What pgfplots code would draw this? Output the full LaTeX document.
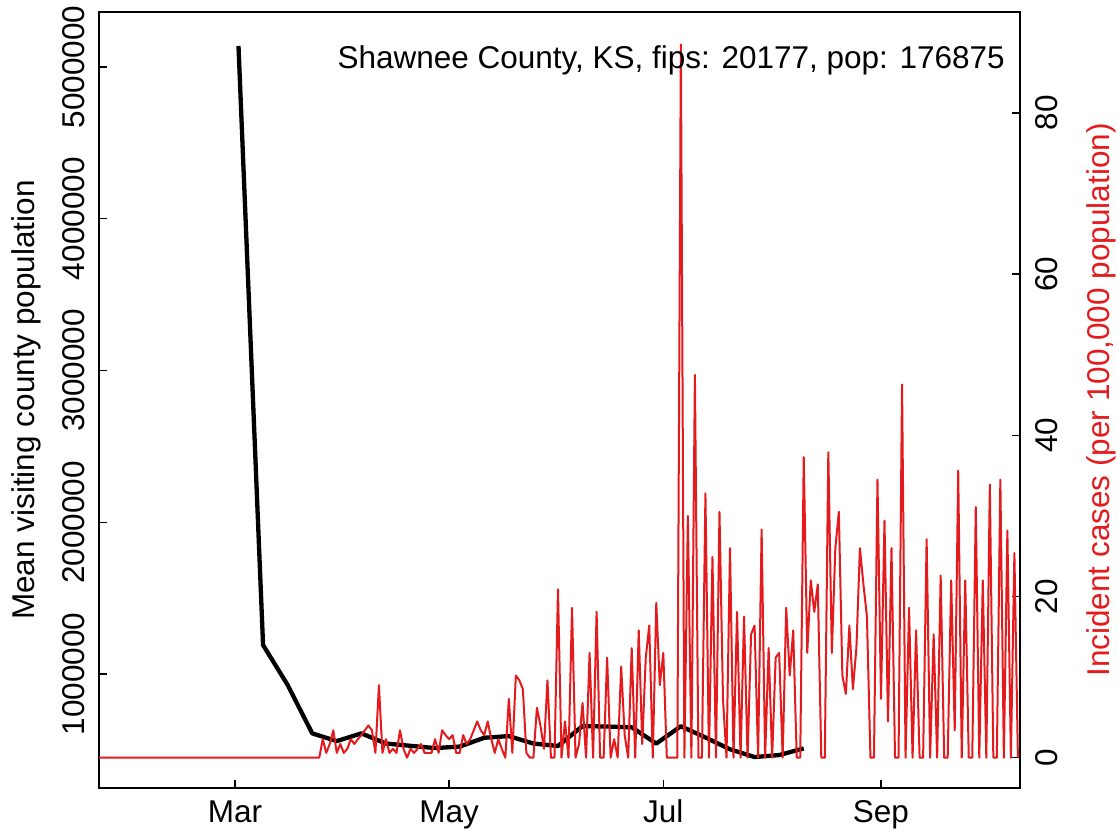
\documentclass[border=0pt]{standalone}
\usepackage{pgfplots}
\pgfplotsset{compat=1.18}
\usepackage{fontspec}
\setmainfont{Liberation Sans}
\definecolor{rred}{RGB}{228,26,28}
\newcommand{\bigf}{\fontsize{31.5}{37}\selectfont}
\begin{document}
\bigf
\begin{tikzpicture}
\path[use as bounding box] (-99pt,-43pt) rectangle (1019pt,788pt);
\begin{axis}[
  scale only axis, width=921pt, height=776pt,
  xmin=22.27, xmax=284.6, ymin=0.249, ymax=5.362,
  axis line style={line width=1.5pt},
  xtick={61,122,183,245}, xticklabels={Mar,May,Jul,Sep},
  ytick={1,2,3,4,5}, yticklabels={1000000,2000000,3000000,4000000,5000000},
  xtick pos=bottom, ytick pos=left,
  tick align=inside, major tick length=8pt,
  every tick/.style={black, line width=1.5pt},
  xticklabel style={font=\bigf, anchor=base, inner sep=0pt, yshift=-34pt},
  yticklabel style={font=\bigf, inner sep=0pt, xshift=-14pt, rotate=90, anchor=base},
  every axis y label/.style={at={(axis description cs:0,0.5)}, xshift=-64.4pt, rotate=90, anchor=base, inner sep=0pt, font=\bigf},
  ylabel={Mean visiting county population},
]
\addplot[black, line width=4.3pt, line join=round] coordinates {
(62,5.138) (69,1.191) (76,0.928) (83,0.609) (90,0.558) (97,0.609) (104,0.542)
(111,0.527) (118,0.512) (125,0.522) (132,0.580) (139,0.591) (146,0.542) (153,0.526)
(160,0.657) (167,0.654) (174,0.649) (181,0.542) (188,0.656) (195,0.582) (202,0.504)
(209,0.453) (216,0.466) (223,0.510)
};
\end{axis}
\begin{axis}[
  scale only axis, width=921pt, height=776pt,
  xmin=22.27, xmax=284.6, ymin=-3.76, ymax=92.52,
  axis line style={line width=1.5pt},
  xtick=\empty,
  ytick={0,20,40,60,80}, yticklabels={0,20,40,60,80},
  ytick pos=right,
  tick align=inside, major tick length=8pt,
  every tick/.style={black, line width=1.5pt},
  yticklabel style={font=\bigf, inner sep=0pt, xshift=37pt, rotate=90, anchor=base},
  every axis y label/.style={at={(axis description cs:1,0.5)}, xshift=89pt, rotate=90, anchor=base, inner sep=0pt, font=\bigf, text=rred},
  ylabel={Incident cases (per 100,000 population)},
]
\addplot[rred, line width=2pt, line join=round] coordinates {
(22,0) (85,0) (86,2.3) (87,0.6) (88,1.7) (89,3.4) (90,0.6) (91,1.7) (92,0.6) (93,1.1)
(94,2.3) (95,1.7) (96,2.3) (97,2.8) (98,3.4) (99,4.0) (100,3.4) (101,0.6) (102,9.0)
(103,0.6) (104,2.3) (105,0.6) (106,1.1) (107,0.6) (108,3.4) (109,1.1) (110,0) (111,1.1)
(112,0.6) (113,1.1) (114,1.7) (115,0.6) (116,0.6) (117,0.6) (118,2.3) (119,0.6) (120,3.4)
(121,2.8) (122,2.3) (123,2.8) (124,0.6) (125,0.6) (126,2.8) (127,1.7) (128,2.3) (129,3.4)
(130,4.5) (131,3.4) (132,2.8) (133,4.5) (134,2.3) (135,0.6) (136,2.3) (137,1.1) (138,0)
(139,7.3) (140,0.6) (141,10.2) (142,9.6) (143,8.5) (144,0.6) (145,0) (146,0) (147,6.2)
(148,4.0) (149,1.1) (150,9.6) (151,0) (152,0) (153,20.9) (154,0) (155,4.5) (156,0)
(157,18.6) (158,0) (159,1.7) (160,6.8) (161,0) (162,13.0) (163,0) (164,18.1) (165,0)
(166,0) (167,12.4) (168,0) (169,2.3) (170,0) (171,11.3) (172,2.8) (173,0) (174,13.6)
(175,0) (176,15.8) (177,1.7) (178,12.4) (179,16.4) (180,0) (181,19.2) (182,9.0) (183,13.0)
(184,0) (185,0) (186,0) (187,0) (188,88.5) (189,0) (190,30.0) (191,0) (192,47.5) (193,0)
(194,0) (195,32.8) (196,0) (197,24.9) (198,0) (199,30.5) (200,7.3) (201,0) (202,26.0)
(203,0) (204,18.1) (205,0) (206,17.5) (207,0) (208,15.3) (209,16.4) (210,0) (211,28.3)
(212,0) (213,13.6) (214,0) (215,12.4) (216,13.0) (217,0) (218,18.6) (219,10.2) (220,15.8)
(221,0) (222,0) (223,37.3) (224,13.0) (225,22.0) (226,18.1) (227,21.5) (228,0) (229,0)
(230,37.9) (231,13.0) (232,26.0) (233,30.5) (234,10.2) (235,7.9) (236,16.4) (237,8.5)
(238,13.6) (239,26.0) (240,21.5) (241,17.5) (242,0) (243,0) (244,34.5) (245,7.3)
(246,29.4) (247,4.5) (248,26.0) (249,0) (250,0) (251,46.3) (252,0) (253,18.6) (254,0)
(255,15.8) (256,0) (257,0) (258,27.1) (259,0) (260,15.3) (261,0) (262,22.6) (263,0)
(264,0) (265,22.0) (266,3.4) (267,35.6) (268,0) (269,22.0) (270,0) (271,0) (272,31.1)
(273,0) (274,22.0) (275,0) (276,33.9) (277,0) (278,0) (279,34.5) (280,0) (281,28.2)
(282,0) (283,25.4) (284,0)
};
\node[anchor=base east, inner sep=0pt, font=\bigf] at (rel axis cs:0.9837,0.9278) {Shawnee County, KS, fips: 20177, pop: 176875};
\end{axis}
\end{tikzpicture}
\end{document}
